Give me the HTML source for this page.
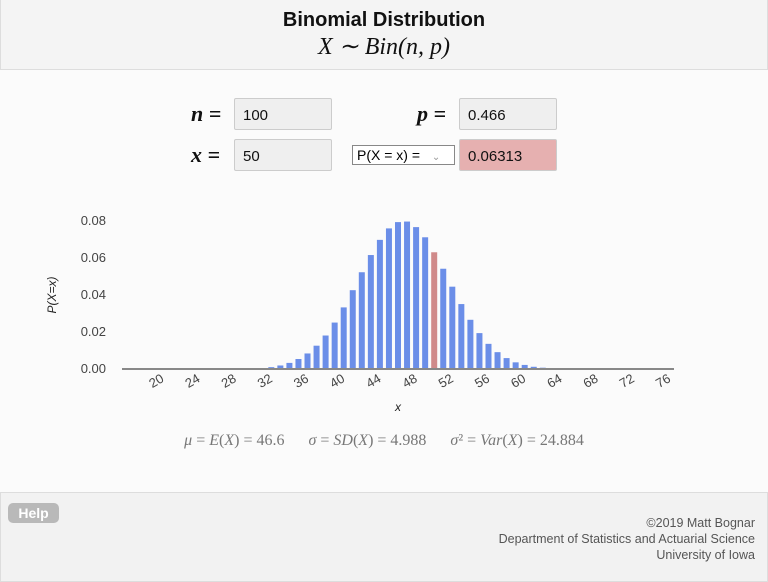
<!DOCTYPE html>
<html><head><meta charset="utf-8"><style>
body{margin:0;width:768px;height:581px;background:#fbfbfb;font-family:"Liberation Sans",sans-serif;position:relative;overflow:hidden}
.hdr{position:absolute;left:0;top:0;width:766px;height:69px;background:#f4f4f4;border:1px solid #ddd;border-top:none}
.title{position:absolute;top:9px;width:100%;text-align:center;font-weight:bold;font-size:20px;color:#111}
.sub{position:absolute;top:32px;width:100%;text-align:center;font-family:"Liberation Serif",serif;font-style:italic;font-size:24px;color:#111}
.lab{position:absolute;font-family:"Liberation Serif",serif;font-style:italic;font-weight:bold;font-size:22px;color:#111}
.box{position:absolute;width:98px;height:32px;background:#efefef;border:1px solid #ccc;border-radius:2px;box-sizing:border-box;padding:8px 0 0 8px;font-size:15px;color:#111}
.sel{position:absolute;left:352px;top:145px;width:103px;height:20px;border:1px solid #888;background:#fff;box-sizing:border-box;font-size:14px;padding:1px 0 0 4px}
.stats{position:absolute;top:432px;width:100%;text-align:center;font-family:"Liberation Serif",serif;font-size:16px;color:#777}
.ftr{position:absolute;left:0;top:492px;width:766px;height:88px;background:#f2f2f2;border:1px solid #ddd}
.help{position:absolute;left:7px;top:10px;width:51px;height:20px;background:#b9b9b9;border-radius:5px;color:#fff;font-size:14px;font-weight:bold;text-align:center;line-height:20px}
.cr{position:absolute;right:12px;top:22px;text-align:right;font-size:12.5px;color:#555;line-height:16px}
</style></head><body>
<div class="hdr">
<div class="title">Binomial Distribution</div>
<div class="sub">X ∼ Bin(n, p)</div>
</div>
<div class="lab" style="left:191px;top:101px">n =</div>
<div class="box" style="left:234px;top:98px">100</div>
<div class="lab" style="left:417px;top:101px">p =</div>
<div class="box" style="left:459px;top:98px">0.466</div>
<div class="lab" style="left:191px;top:142px">x =</div>
<div class="box" style="left:234px;top:139px">50</div>
<div class="sel">P(X = x) = <span style="color:#999;font-size:10px;margin-left:8px">⌄</span></div>
<div class="box" style="left:459px;top:139px;background:#e6b0b0">0.06313</div>
<svg id="chart" style="position:absolute;left:0;top:200px" width="768" height="220"></svg>
<div class="stats"><i>μ</i> = <i>E</i>(<i>X</i>) = 46.6 &nbsp;&nbsp;&nbsp;&nbsp; <i>σ</i> = <i>SD</i>(<i>X</i>) = 4.988 &nbsp;&nbsp;&nbsp;&nbsp; <i>σ</i>² = <i>Var</i>(<i>X</i>) = 24.884</div>
<div class="ftr">
<div class="help">Help</div>
<div class="cr">©2019 Matt Bognar<br>Department of Statistics and Actuarial Science<br>University of Iowa</div>
</div>
<script>
const xs=[];for(let i=16;i<=76;i++)xs.push(i);
const probs=[0,0,0,0,0,0,0,0,0,0,0,0,0,0.0001,0.0002,0.0005,0.001,0.0019,0.0033,0.0054,0.0084,0.0126,0.0181,0.0251,0.0333,0.0426,0.0523,0.0616,0.0698,0.0760,0.0794,0.0797,0.0767,0.0712,0.0631,0.0542,0.0445,0.0351,0.0266,0.0194,0.0136,0.0091,0.0059,0.0036,0.0022,0.0012,0.0007,0.0003,0.0002,0.0001,0,0,0,0,0,0,0,0,0,0,0];
const yTicks=[0,0.02,0.04,0.06,0.08];
const xTicks=[20,24,28,32,36,40,44,48,52,56,60,64,68,72,76];
const selectedX=50;
const svg=document.getElementById('chart');const NS='http://www.w3.org/2000/svg';
const L=122,R=674,Y0=169,Y1=21;
const bw=(R-L)/xs.length;
const sx=v=>L+(v-xs[0]+0.5)*bw;
const sy=v=>Y0-(v/0.08)*(Y0-Y1);
function mk(t,a){const e=document.createElementNS(NS,t);for(const k in a)e.setAttribute(k,a[k]);svg.appendChild(e);return e;}
yTicks.forEach(v=>{const t=mk('text',{x:106,y:sy(v)+4,'text-anchor':'end','font-size':13,fill:'#444','font-family':'Liberation Sans'});t.textContent=v.toFixed(2);

});
xs.forEach((x,i)=>{const h=Y0-sy(probs[i]);const r=mk('rect',{x:sx(x)-3,y:sy(probs[i]),width:6,height:Math.max(h,0),fill:x===selectedX?'#d08a8a':'#6b8ee8'});

});
const ax=mk('line',{x1:L,x2:R,y1:Y0,y2:Y0,stroke:'#888','stroke-width':2});


xTicks.forEach(v=>{const x=sx(v)+2,y=Y0+12;const t=mk('text',{x:x,y:y,'text-anchor':'end','font-size':13,fill:'#444','font-family':'Liberation Sans',transform:`rotate(-30 ${x} ${y})`});t.textContent=v;

});
const xl=mk('text',{x:398,y:211,'text-anchor':'middle','font-size':12,'font-style':'italic',fill:'#222','font-family':'Liberation Sans'});xl.textContent='x';


const yl=mk('text',{x:0,y:0,'text-anchor':'middle','font-size':12,'font-style':'italic',fill:'#222','font-family':'Liberation Sans',transform:'translate(56,95) rotate(-90)'});yl.textContent='P(X=x)';


</script>
</body></html>
